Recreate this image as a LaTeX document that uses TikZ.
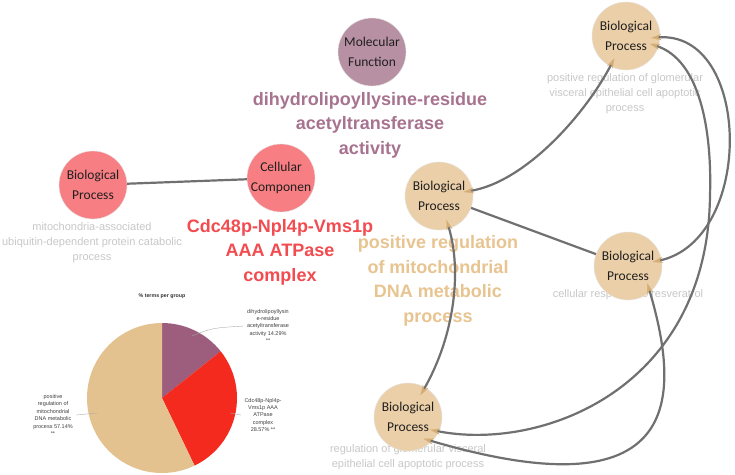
\documentclass[tikz,border=0pt]{standalone}
\usepackage{fontspec}
\setmainfont{Liberation Sans}
\newfontfamily\nodefont{Carlito}
\usetikzlibrary{arrows.meta}
\definecolor{edgegray}{RGB}{112,112,112}
\definecolor{tanarrow}{RGB}{212,172,116}
\definecolor{mffill}{RGB}{184,144,163}
\definecolor{mflab}{RGB}{167,115,144}
\definecolor{redfill}{RGB}{247,126,131}
\definecolor{redlab}{RGB}{242,75,80}
\definecolor{tanfill}{RGB}{235,207,168}
\definecolor{tanlab}{RGB}{232,196,145}
\definecolor{graylab}{RGB}{200,200,200}
\definecolor{piepurple}{RGB}{156,94,124}
\definecolor{piered}{RGB}{244,42,30}
\definecolor{pietan}{RGB}{227,194,144}
\begin{document}
\begin{tikzpicture}[x=1pt,y=-1pt,
  gonode/.style={circle, minimum size=68pt, inner sep=0pt, align=center,
    font=\nodefont\fontsize{13.5}{20}\selectfont, text=black!88,
    draw=black!10, line width=0.4pt},
  biglab/.style={font=\bfseries\fontsize{18}{24.6}\selectfont, align=center},
  smalllab/.style={font=\fontsize{11}{15}\selectfont, text=graylab, align=center},
  edge/.style={draw=edgegray, line width=2.2pt},
  tipped/.style={edge,
    {Stealth[length=10pt,width=6pt,line width=0.1pt,color=tanarrow]}-{Stealth[length=10pt,width=6pt,line width=0.1pt,color=tanarrow]},
    shorten <=-9pt, shorten >=-9pt},
  pielab/.style={font=\fontsize{5.5}{7.4}\selectfont, text=black!75, align=center},
  leader/.style={draw=black!35, line width=0.35pt}]
\useasboundingbox[fill=white] (0,0) rectangle (735,474);

% big and small labels
\node[biglab, text=mflab] (mflabel) at (370,125) {dihydrolipoyllysine-residue\\acetyltransferase\\activity};
\node[biglab, text=redlab] (cclabel) at (280,252) {Cdc48p-Npl4p-Vms1p\\AAA ATPase\\complex};
\node[biglab, text=tanlab] (bpclabel) at (438,281) {positive regulation\\of mitochondrial\\DNA metabolic\\process};
\node[smalllab] (bpllabel) at (92,243) {mitochondria-associated\\ubiquitin-dependent protein catabolic\\process};
\node[smalllab] (trlabel) at (625,94) {positive regulation of glomerular\\visceral epithelial cell apoptotic\\process};
\node[smalllab] (mrlabel) at (628,295) {cellular response to resveratrol};
\node[smalllab] (botlabel) at (408,457) {regulation of glomerular visceral\\epithelial cell apoptotic process};

% nodes
\node[gonode, fill=mffill] (mf) at (372,52) {Molecular\\Function};
\node[gonode, fill=redfill] (bpl) at (93,185) {Biological\\Process};
\node[gonode, fill=redfill] (cc) at (281,178) {Cellular\\Componen};
\node[gonode, fill=tanfill] (bpc) at (439,196) {Biological\\Process};
\node[gonode, fill=tanfill] (tr) at (626,36) {Biological\\Process};
\node[gonode, fill=tanfill] (mr) at (628,266) {Biological\\Process};
\node[gonode, fill=tanfill] (bot) at (408,417) {Biological\\Process};

% connectors
\draw[edge] (bpl) -- (cc);
\draw[edge] (bpc) -- (mr);
\draw[tipped] (bpc) .. controls (525,182) and (585,115) .. (tr);
\draw[tipped] (bpc) .. controls (462,270) and (455,335) .. (bot);
\draw[tipped] (tr.-2) .. controls (752,30) and (755,240) .. (mr.10);
\coordinate (dmid) at (710,195);
\draw[tipped] (tr.-18) .. controls (700,60) and (712,130) .. (dmid) .. controls (708,390) and (540,452) .. (bot.-25);
\draw[tipped] (mr.-50) .. controls (682,400) and (682,515) .. (bot.-45);

% pie chart
\node[font=\bfseries\fontsize{5.3}{6}\selectfont, text=black!80] (ptitle) at (162,296) {\% terms per group};
\coordinate (pie) at (162,398);
\begin{scope}[shift={(pie)}, y=1pt]
  \fill[piepurple] (0,0) -- (90:75) arc[start angle=90, end angle=38.57, radius=75] -- cycle;
  \fill[piered] (0,0) -- (38.57:75) arc[start angle=38.57, end angle=-64.29, radius=75] -- cycle;
  \fill[pietan] (0,0) -- (90:75) arc[start angle=90, end angle=295.71, radius=75] -- cycle;
\end{scope}
\node[pielab] (lp) at (268,326) {dihydrolipoyllysin\\e-residue\\acetyltransferase\\activity 14.29\%\\**};
\node[pielab] (lr) at (263,415) {Cdc48p-Npl4p-\\Vms1p AAA\\ATPase\\complex\\28.57\% **};
\node[pielab] (lt) at (53,415) {positive\\regulation of\\mitochondrial\\DNA metabolic\\process 57.14\%\\**};
\coordinate (pp) at (192,336);
\coordinate (pr) at (230,413);
\coordinate (pt) at (97,413);
\draw[leader] (pp) .. controls (212,328) .. (lp.west);
\draw[leader] (pr) -- (lr.west);
\draw[leader] (pt) -- (lt.east);
\end{tikzpicture}
\end{document}
